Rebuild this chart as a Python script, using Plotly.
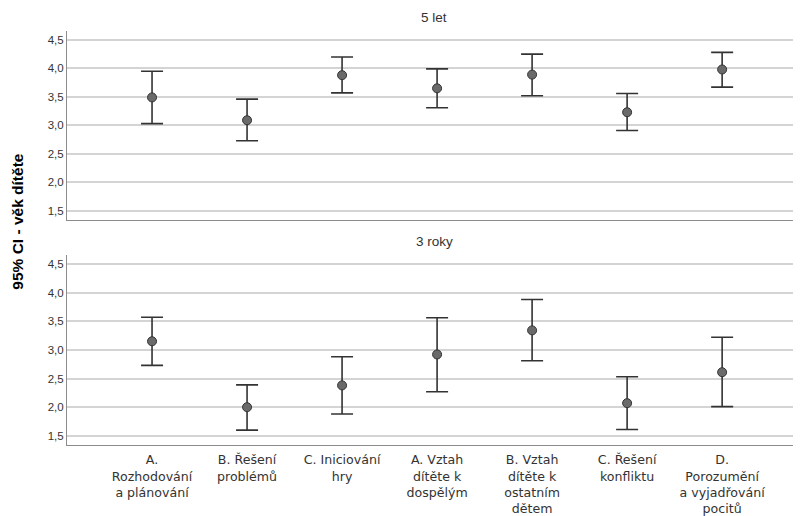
import plotly.graph_objects as go
from plotly.subplots import make_subplots

categories = [
    "A.<br>Rozhodování<br>a plánování",
    "B. Řešení<br>problémů",
    "C. Iniciování<br>hry",
    "A. Vztah<br>dítěte k<br>dospělým",
    "B. Vztah<br>dítěte k<br>ostatním<br>dětem",
    "C. Řešení<br>konfliktu",
    "D.<br>Porozumění<br>a vyjadřování<br>pocitů",
]
panels = ["5 let", "3 roky"]

mean_5 = [3.49, 3.09, 3.88, 3.65, 3.89, 3.23, 3.98]
low_5 = [3.03, 2.73, 3.57, 3.31, 3.52, 2.91, 3.67]
high_5 = [3.95, 3.46, 4.20, 3.99, 4.25, 3.56, 4.28]

mean_3 = [3.15, 2.00, 2.38, 2.92, 3.34, 2.07, 2.61]
low_3 = [2.73, 1.60, 1.88, 2.27, 2.81, 1.61, 2.01]
high_3 = [3.57, 2.39, 2.88, 3.56, 3.88, 2.53, 3.22]

y_ticks = [1.5, 2.0, 2.5, 3.0, 3.5, 4.0, 4.5]

fig = make_subplots(rows=2, cols=1, shared_xaxes=True, vertical_spacing=0.085)

data = [(mean_5, low_5, high_5), (mean_3, low_3, high_3)]
x_idx = list(range(len(categories)))
for r, (m, lo, hi) in enumerate(data, start=1):
    fig.add_trace(go.Scatter(
        x=x_idx, y=m, mode="markers",
        marker=dict(size=9, color="#6a6a6a", line=dict(color="#333333", width=1)),
        error_y=dict(type="data", symmetric=False,
                     array=[h - v for h, v in zip(hi, m)],
                     arrayminus=[v - l for v, l in zip(m, lo)],
                     color="#333333", thickness=1.6, width=11),
        showlegend=False, hoverinfo="skip",
    ), row=r, col=1)

for r in (1, 2):
    fig.update_yaxes(range=[1.34, 4.655], tickvals=y_ticks, tickformat=".1f",
                     showgrid=True, gridcolor="#d4d4d4", gridwidth=1.5,
                     showline=True, linecolor="#8c8c8c", linewidth=1,
                     zeroline=False, ticks="", ticklen=0, automargin=False,
                     tickfont=dict(family="Liberation Sans, Arial", size=11.5, color="#333333"),
                     row=r, col=1)
    fig.update_xaxes(range=[-0.895, 6.83], tickvals=x_idx, ticktext=categories,
                     showgrid=False, showline=True, linecolor="#8c8c8c", linewidth=1,
                     zeroline=False, ticks="", automargin=False, ticklabelstandoff=3,
                     tickfont=dict(family="DejaVu Sans", size=12.6, color="#333333"),
                     row=r, col=1)
fig.update_xaxes(showticklabels=False, row=1, col=1)
fig.update_xaxes(showticklabels=True, row=2, col=1)

fig.update_layout(yaxis=dict(domain=[0.5435, 1.0]), yaxis2=dict(domain=[0.0, 0.4589]))

for i, name in enumerate(panels):
    yref = "y domain" if i == 0 else "y2 domain"
    fig.add_annotation(text=name, xref="paper", x=0.5, yref=yref, y=1, yanchor="bottom",
                       yshift=4, showarrow=False,
                       font=dict(family="Liberation Sans, Arial", size=13.5, color="#333333"))

fig.add_annotation(text="<b>95% CI - věk dítěte</b>", textangle=-90, xref="paper", yref="paper",
                   x=(18 - 67) / 734, y=(445 - 221.7) / 414, xanchor="center", yanchor="middle",
                   showarrow=False, font=dict(family="Liberation Sans, Arial", size=15.5, color="#000000"))

# the page body adds an 8 px margin, so the figure is sized to fit the 801x516 window
fig.update_layout(width=793, height=508, margin=dict(l=59, r=0, t=23, b=71, autoexpand=False),
                  paper_bgcolor="white", plot_bgcolor="white", separators=", ")

fig.write_html("out.html")
